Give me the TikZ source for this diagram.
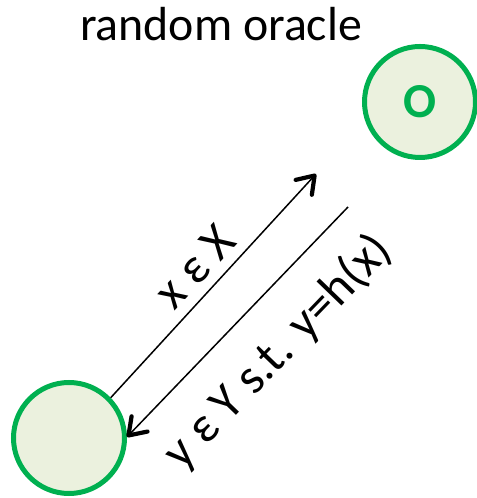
\documentclass[tikz,border=0pt]{standalone}
\usepackage{fontspec}
\setmainfont{Carlito}
\usetikzlibrary{arrows.meta}
\definecolor{ogreen}{HTML}{00B050}
\definecolor{ofill}{HTML}{EBF1DE}
\begin{document}
\begin{tikzpicture}[x=1bp,y=1bp,
  party/.style={circle, draw=ogreen, fill=ofill, line width=5bp, minimum size=111bp, inner sep=0pt},
  msg/.style={line width=1.5bp, -{Straight Barb[length=16bp,width=22bp,line width=4.2bp 0 0,round]}},
  lbl/.style={font=\fontsize{50}{52}\selectfont, inner sep=0pt}]
\useasboundingbox (0,0) rectangle (477,498);
\node[font=\fontsize{48}{50}\selectfont, inner sep=0pt, anchor=base] (title) at (221,457) {random oracle};
\node[party, font=\fontsize{49}{50}\selectfont\bfseries, text=ogreen] (O) at (420,396) {\raisebox{-5bp}{O}};
\node[party] (A) at (69,60) {};
\coordinate (t1) at (316,324);
\coordinate (s2) at (348,291);
\draw[msg] (A.44) -- (t1);
\draw[msg] (s2) -- (A.1);
\node[lbl, rotate=47] (l1) at (195,231) {x ε X};
\node[lbl, rotate=46] (l2) at (278,146) {y ε Y s.t. y=h(x)};
\end{tikzpicture}
\end{document}
